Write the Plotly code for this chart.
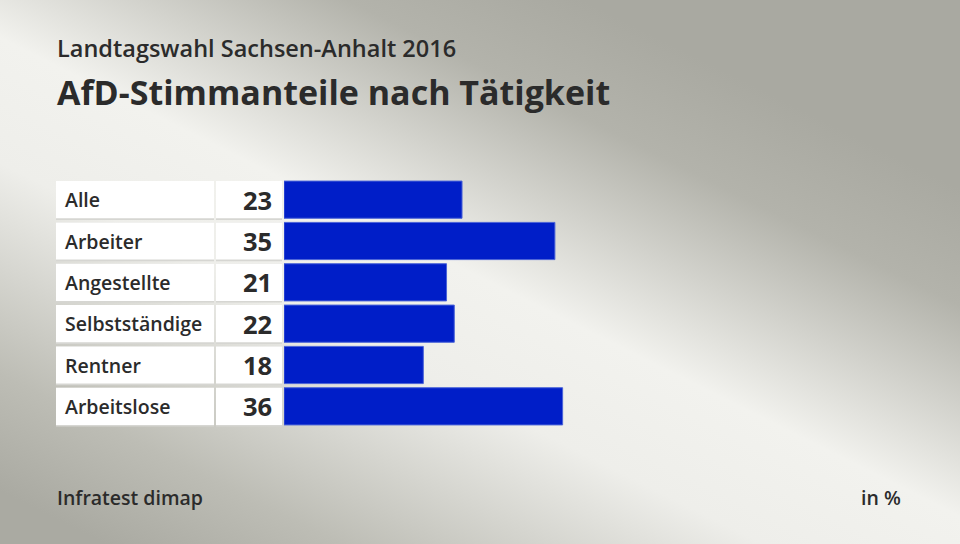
import base64
import plotly.graph_objects as go

# data
categories = ['Alle', 'Arbeiter', 'Angestellte', 'Selbstständige', 'Rentner', 'Arbeitslose']
values = [23, 35, 21, 22, 18, 36]

W, H = 960, 544
FONT = 'Open Sans'
TXT = '#2b2b2b'

# gradient background as svg
svg = f'''<svg xmlns="http://www.w3.org/2000/svg" width="{W}" height="{H}">
<defs><linearGradient id="g" gradientUnits="userSpaceOnUse" x1="456" y1="-63" x2="144" y2="563">
<stop offset="0" stop-color="#a9a9a1"/>
<stop offset="0.15" stop-color="#b3b3ab"/>
<stop offset="0.42" stop-color="#f2f2ee"/>
<stop offset="0.58" stop-color="#eeeeea"/>
<stop offset="0.85" stop-color="#bdbdb5"/>
<stop offset="1" stop-color="#aaaaa2"/>
</linearGradient></defs>
<rect width="{W}" height="{H}" fill="url(#g)"/>
</svg>'''
bg = 'data:image/svg+xml;base64,' + base64.b64encode(svg.encode()).decode()

px = lambda x: x / W
bar_x0 = 284
px_per_unit = 7.74
x_right = 0.9
x_max = (x_right * W - bar_x0) / px_per_unit

fig = go.Figure()
fig.add_trace(go.Bar(
    x=values, y=categories, orientation='h', width=0.9,
    marker=dict(color='#001ec8', line=dict(color='#4a63d8', width=1)),
    hoverinfo='skip',
))

shapes = []
annotations = []
for i, (cat, val) in enumerate(zip(categories, values)):
    for a, b in [(56, 214), (216, 282)]:
        shapes.append(dict(type='rect', xref='paper', yref='y', x0=px(a), x1=px(b),
                           y0=i - 0.45, y1=i + 0.49, fillcolor='#d6d6d2', line_width=0, layer='below'))
        shapes.append(dict(type='rect', xref='paper', yref='y', x0=px(a), x1=px(b),
                           y0=i - 0.45, y1=i + 0.45, fillcolor='white', line_width=0, layer='below'))
    annotations.append(dict(x=px(63), y=cat, xref='paper', yref='y', text=cat, showarrow=False,
                            xanchor='left', font=dict(family=FONT, size=19.5, color=TXT, weight=600)))
    annotations.append(dict(x=px(274), y=cat, xref='paper', yref='y', text=str(val), showarrow=False,
                            xanchor='right', font=dict(family=FONT, size=25.5, color=TXT, weight=700)))

annotations += [
    dict(x=px(55), y=1 - 48 / H, xref='paper', yref='paper', text='Landtagswahl Sachsen-Anhalt 2016',
         showarrow=False, xanchor='left', yanchor='middle', font=dict(family=FONT, size=23.5, color=TXT, weight=600)),
    dict(x=px(55), y=1 - 92 / H, xref='paper', yref='paper', text='AfD-Stimmanteile nach Tätigkeit',
         showarrow=False, xanchor='left', yanchor='middle', font=dict(family=FONT, size=34, color=TXT, weight=700)),
    dict(x=px(55), y=1 - 497 / H, xref='paper', yref='paper', text='Infratest dimap',
         showarrow=False, xanchor='left', yanchor='middle', font=dict(family=FONT, size=19.5, color=TXT, weight=600)),
    dict(x=px(903), y=1 - 497 / H, xref='paper', yref='paper', text='in %',
         showarrow=False, xanchor='right', yanchor='middle', font=dict(family=FONT, size=19.5, color=TXT, weight=600)),
]

fig.update_layout(
    width=W, height=H, margin=dict(l=0, r=0, t=0, b=0),
    paper_bgcolor='#c8c8c2', plot_bgcolor='rgba(0,0,0,0)',
    showlegend=False,
    xaxis=dict(domain=[px(bar_x0), x_right], range=[0, x_max], visible=False, fixedrange=True),
    yaxis=dict(domain=[1 - 427 / H, 1 - 179 / H], range=[5.5, -0.5], visible=False, fixedrange=True),
    shapes=shapes, annotations=annotations,
    images=[dict(source=bg, xref='paper', yref='paper', x=0, y=1, sizex=1, sizey=1,
                 sizing='stretch', layer='below', xanchor='left', yanchor='top')],
)

fig.write_html('out.html', config={'displayModeBar': False},
               post_script="document.body.style.margin='0';document.body.style.overflow='hidden';")
